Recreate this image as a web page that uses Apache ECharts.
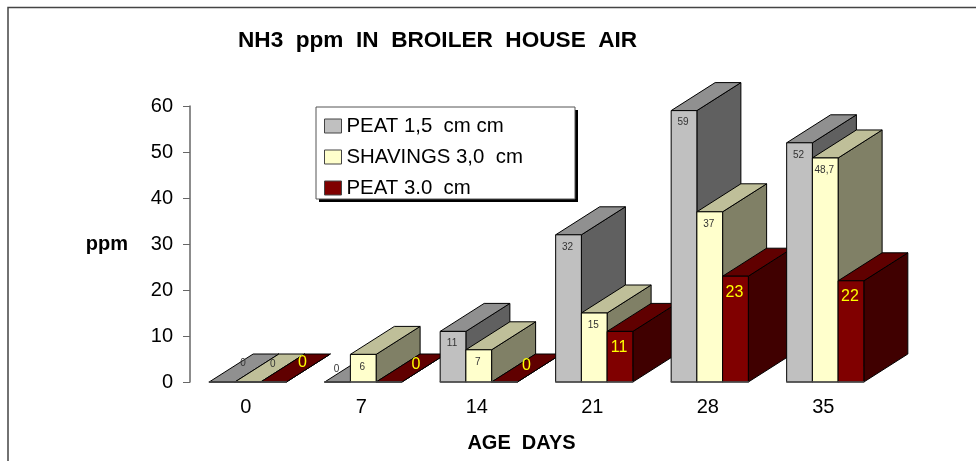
<!DOCTYPE html>
<html><head><meta charset="utf-8">
<style>html,body{margin:0;padding:0;background:#fff}#c{width:976px;height:461px}</style>
<script src="https://cdn.jsdelivr.net/npm/echarts@6/dist/echarts.min.js"></script>
</head><body><div id="c"></div>
<script>
const categories = ['0','7','14','21','28','35'];
const peat15 = [0,0,11,32,59,52];
const shavings30 = [0,6,7,15,37,48.7];
const peat30 = [0,0,0,11,23,22];
const peat15Labels = ['0','0','11','32','59','52'];
const shavingsLabels = ['0','6','7','15','37','48,7'];
const peat30Labels = ['0','0','0','11','23','22'];
const yTicks = {min:0,max:60,interval:10};

const FONT = 'Liberation Sans, Arial, sans-serif';
const palettes = [
  {front:'#C0C0C0',top:'#909090',side:'#606060',label:'#333333',size:10,dy:12},
  {front:'#FFFFCC',top:'#BFBF99',side:'#808066',label:'#333333',size:10,dy:12.5},
  {front:'#800000',top:'#600000',side:'#400000',label:'#FFFF00',size:16,dy:16}
];
const depthX = 44, depthY = -28, barRatio = 0.2227;
// hand-placed zero labels in the original, series-category: [dx, dy] from the bar's base centre
const zeroNudges = {'0-0':[21,-19],'1-0':[25,-18],'2-0':[29,-19],'0-1':[-1,-13],'2-1':[27,-17],'2-2':[22,-16]};

function renderer(si, labels){
  return function(params, api){
    const ci = api.value(0), v = api.value(1);
    const band = api.size([1,0])[0], w = band*barRatio;
    const p = api.coord([ci,v]), b = api.coord([ci,0]);
    const x0 = p[0] + (si-1.5)*w, x1 = x0+w, yT = p[1], yB = b[1];
    const pal = palettes[si], z = ci*10+si*3;
    const face = (pts,fill)=>({type:'polygon',z2:z,shape:{points:pts},style:{fill,stroke:'#000',lineWidth:1,lineJoin:'round'}});
    let lx = (x0+x1)/2-1, ly = yT+pal.dy;
    const n = zeroNudges[si+'-'+ci];
    if(n){ lx = (x0+x1)/2+n[0]; ly = yB+n[1]; }
    return {type:'group',children:[
      face([[x1,yT],[x1+depthX,yT+depthY],[x1+depthX,yB+depthY],[x1,yB]],pal.side),
      face([[x0,yT],[x0+depthX,yT+depthY],[x1+depthX,yT+depthY],[x1,yT]],pal.top),
      face([[x0,yT],[x1,yT],[x1,yB],[x0,yB]],pal.front),
      {type:'line',z2:z+1,shape:{x1:x0-0.5,y1:yB,x2:x1+0.5,y2:yB},style:{stroke:'#555',lineWidth:1.5}},
      {type:'text',z2:z+2,style:{text:labels[ci],x:lx,y:ly,fill:pal.label,font:pal.size+'px '+FONT,align:'center',verticalAlign:'middle'}}
    ]};
  };
}
function mkSeries(name,values,si,labels){
  return {name,type:'custom',clip:false,silent:true,
    itemStyle:{color:palettes[si].front},
    encode:{x:0,y:1},
    data:values.map((v,i)=>[i,v]),
    renderItem:renderer(si,labels)};
}
const chart = echarts.init(document.getElementById('c'),null,{renderer:'canvas'});
chart.setOption({
  animation:false,
  backgroundColor:'#fff',
  title:{text:'NH3  ppm  IN  BROILER  HOUSE  AIR',left:233,top:24,textStyle:{fontFamily:FONT,fontSize:22.6,fontWeight:'bold',color:'#000'}},
  grid:{left:190,right:93,top:106,bottom:79},
  legend:{left:316,top:107,orient:'vertical',padding:[9,0,0,8],itemWidth:17,itemHeight:14,itemGap:11,
    itemStyle:{borderColor:'#444',borderWidth:1},
    icon:'rect',textStyle:{fontFamily:FONT,fontSize:20.4,color:'#000'},
    selectedMode:false},
  xAxis:{type:'category',data:categories,axisLine:{show:false},axisTick:{show:false},
    axisLabel:{fontFamily:FONT,fontSize:20,color:'#000',margin:15,padding:[0,4,0,0]},
    name:'AGE  DAYS',nameLocation:'middle',nameGap:51,
    nameTextStyle:{fontFamily:FONT,fontSize:20,fontWeight:'bold',color:'#000',padding:[0,30,0,0]}},
  yAxis:{type:'value',min:yTicks.min,max:yTicks.max,interval:yTicks.interval,splitLine:{show:false},
    axisLine:{show:true,lineStyle:{color:'#666',width:1.5}},
    axisTick:{show:true,length:7,lineStyle:{color:'#666',width:1}},
    axisLabel:{fontFamily:FONT,fontSize:20,color:'#000',margin:17},
    name:'ppm',nameLocation:'middle',nameRotate:0,nameGap:62,
    nameTextStyle:{fontFamily:FONT,fontSize:20,fontWeight:'bold',color:'#000',padding:[4,0,0,0]}},
  graphic:[
    {type:'polyline',silent:true,shape:{points:[[8,461],[8,7.5],[976,7.5]]},style:{fill:null,stroke:'#444',lineWidth:1.5}},
    {type:'rect',silent:true,z:3,shape:{x:319,y:110,width:259,height:92},style:{fill:'#000'}},
    {type:'rect',silent:true,z:3,shape:{x:316,y:107,width:259,height:92},style:{fill:'#fff',stroke:'#555',lineWidth:1}}
  ],
  series:[
    mkSeries('PEAT 1,5  cm cm',peat15,0,peat15Labels),
    mkSeries('SHAVINGS 3,0  cm',shavings30,1,shavingsLabels),
    mkSeries('PEAT 3.0  cm',peat30,2,peat30Labels)
  ]
});
</script></body></html>
